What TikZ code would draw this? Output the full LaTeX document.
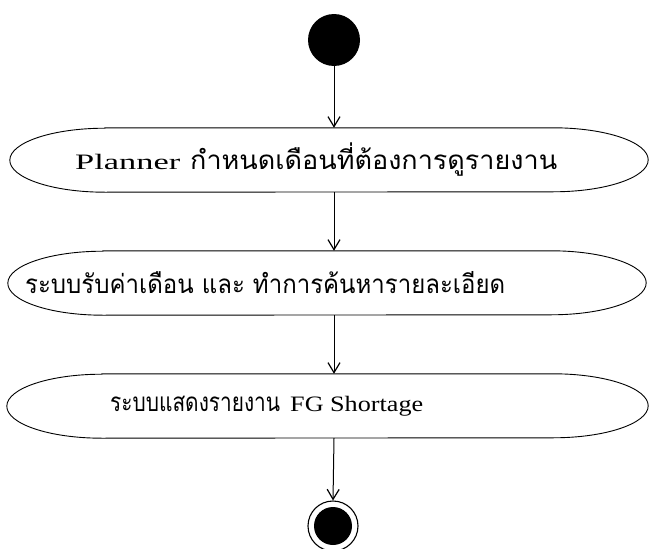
\documentclass[tikz,border=0pt]{standalone}
\usepackage{fontspec}
\usepackage{graphicx}
\setmainfont{Liberation Serif}
\newfontfamily\thaifont[Script=Thai]{Loma}
\usetikzlibrary{arrows.meta}
\newcommand\actoutline[1]{%
  \draw[line width=0.9pt] ([xshift=95pt]#1.north west) -- ([xshift=-95pt]#1.north east)
    arc[start angle=90,end angle=-90,x radius=95pt,y radius=32pt]
    -- ([xshift=95pt]#1.south west)
    arc[start angle=270,end angle=90,x radius=95pt,y radius=32pt] -- cycle;}
\newcommand\lat[2]{\resizebox{#1pt}{\height}{\fontsize{22}{26}\selectfont #2}}
\newcommand\tha[2]{\resizebox{#1pt}{\height}{\fontsize{26}{30}\selectfont\thaifont #2}}
\begin{document}
\begin{tikzpicture}[x=1pt,y=-1pt,
  act/.style={draw=none, minimum height=64pt, inner sep=0pt},
  flow/.style={-{Straight Barb[length=10pt,width=12pt,line width=1.2pt]}, line width=1pt},
  lbl/.style={inner sep=0pt, anchor=west}]
\useasboundingbox (0,0) rectangle (649,549);
\fill[white] (0,0) rectangle (649,549);
\node[circle, fill=black, minimum size=52pt, inner sep=0pt] (start) at (334,40) {};
\node[act, minimum width=638pt] (a1) at (329,160) {};
\node[act, minimum width=638pt] (a2) at (327,283) {};
\node[act, minimum width=641pt] (a3) at (327.5,406) {};
\actoutline{a1}
\actoutline{a2}
\actoutline{a3}
\node[lbl] (t1) at (75,160) {\lat{105}{Planner}\hspace{10pt}\tha{367}{กำหนดเดือนที่ต้องการดูรายงาน}};
\node[lbl] (t2) at (25,283) {\tha{480}{ระบบรับค่าเดือน และ ทำการค้นหารายละเอียด}};
\node[lbl] (t3) at (110,406) {\tha{170}{ระบบแสดงรายงาน}\hspace{10pt}\lat{133}{FG Shortage}};
\node[circle, draw, line width=1.1pt, minimum size=50pt, inner sep=0pt] (end) at (333,526) {};
\node[circle, fill=black, minimum size=38pt, inner sep=0pt] (endin) at (end.center) {};
\draw[flow] (start.south) -- (start.south |- a1.north);
\draw[flow] (start.south |- a1.south) -- (start.south |- a2.north);
\draw[flow] (start.south |- a2.south) -- (start.south |- a3.north);
\draw[flow] (start.south |- a3.south) -- (end.north);
\end{tikzpicture}
\end{document}
